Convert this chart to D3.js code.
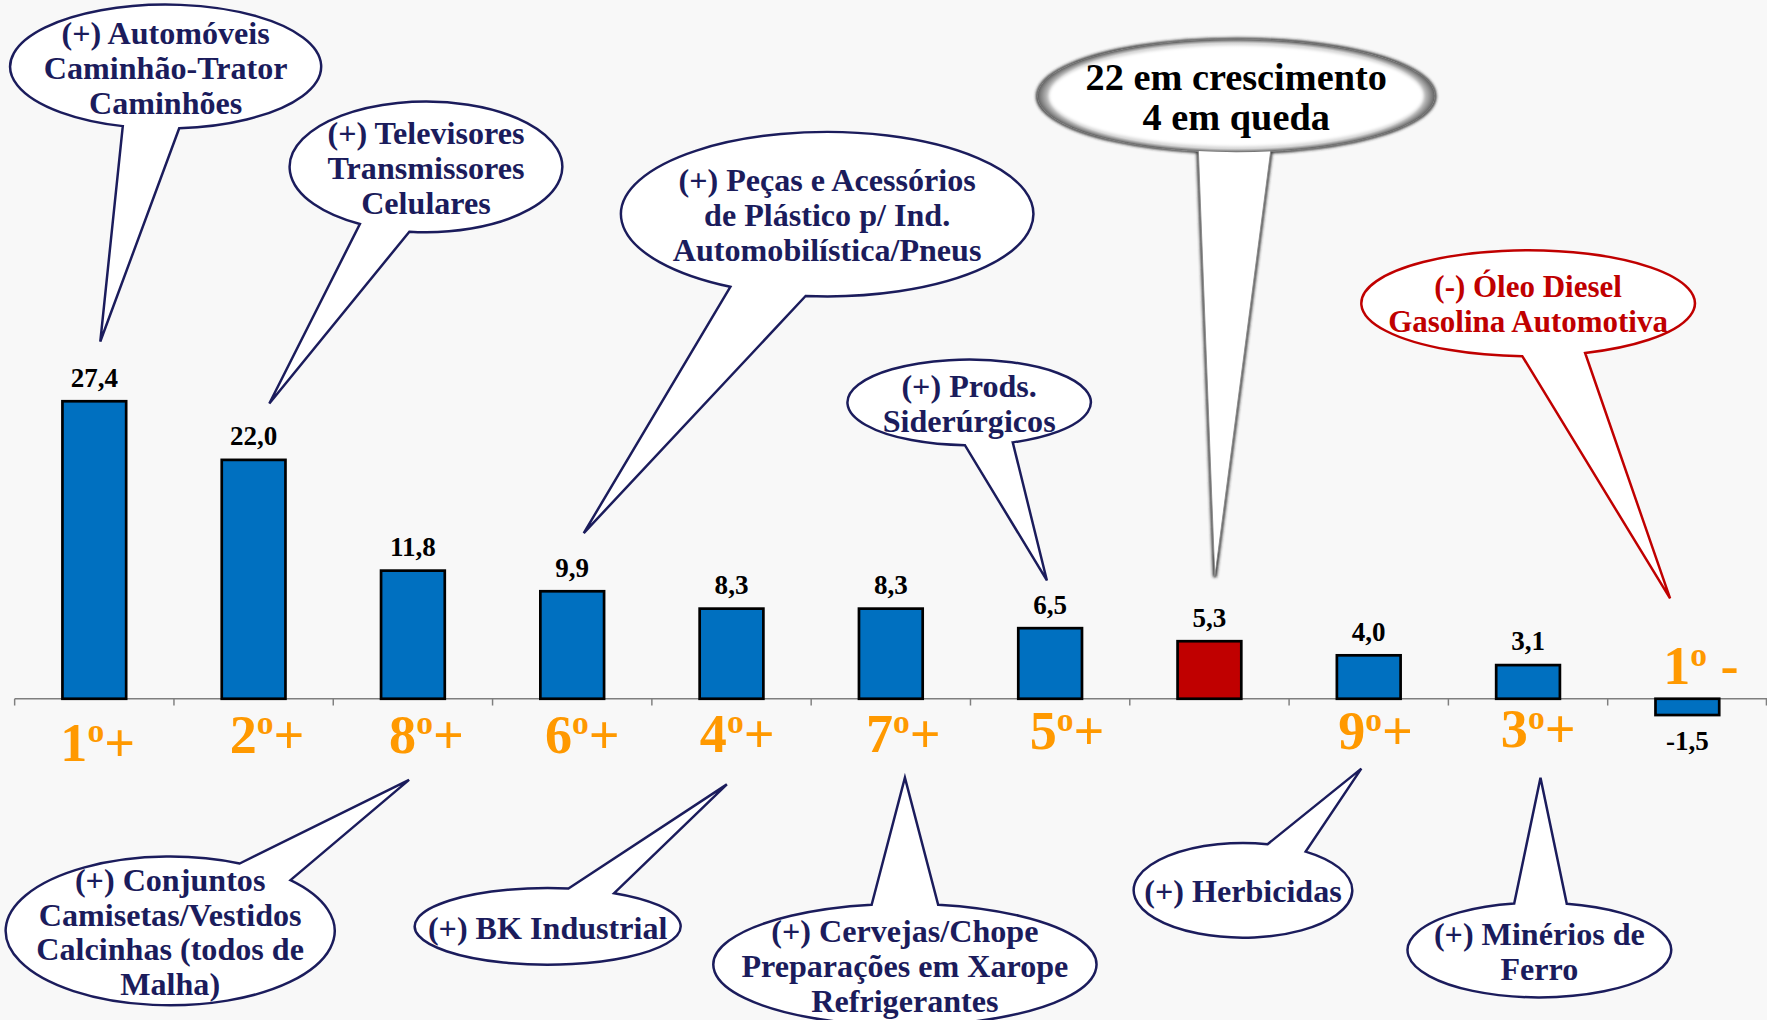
<!DOCTYPE html>
<html><head><meta charset="utf-8">
<script src="https://cdn.jsdelivr.net/npm/d3@7"></script>
<style>html,body{margin:0;padding:0;background:#f8f8f8;overflow:hidden}</style>
</head><body><svg id="chart"></svg>
<script>
// ---------- data ----------
const categories = ["Automóveis", "Televisores", "Conjuntos", "Peças Plástico", "BK Industrial",
  "Cervejas", "Prods. Siderúrgicos", "Total", "Herbicidas", "Minérios de Ferro", "Óleo Diesel"];
const values = [27.4, 22.0, 11.8, 9.9, 8.3, 8.3, 6.5, 5.3, 4.0, 3.1, -1.5];
const rankNumbers = ["1", "2", "8", "6", "4", "7", "5", "", "9", "3", "1"];
const rankSigns = ["+", "+", "+", "+", "+", "+", "+", "", "+", "+", " -"];
const highlightCategory = "Total";
const calloutTexts = [
  ["(+) Automóveis", "Caminhão-Trator", "Caminhões"],
  ["(+) Televisores", "Transmissores", "Celulares"],
  ["(+) Peças e Acessórios", "de Plástico p/ Ind.", "Automobilística/Pneus"],
  ["(+) Prods.", "Siderúrgicos"],
  ["22 em crescimento", "4 em queda"],
  ["(-) Óleo Diesel", "Gasolina Automotiva"],
  ["(+) Conjuntos", "Camisetas/Vestidos", "Calcinhas (todos de", "Malha)"],
  ["(+) BK Industrial"],
  ["(+) Cervejas/Chope", "Preparações em Xarope", "Refrigerantes"],
  ["(+) Herbicidas"],
  ["(+) Minérios de", "Ferro"]
];

// ---------- layout ----------
const VW = 1568, VH = 905;
const NAVY = "#1b1c5c", RED = "#c00000", ORANGE = "#ff9900";
const calloutLayout = [
  {cx:147, cy:59,  rx:138, ry:55, a1:85,  a2:106, tip:[89,303],   kind:"navy"},
  {cx:378, cy:148, rx:121, ry:58, a1:97,  a2:119, tip:[239,358],  kind:"navy"},
  {cx:734, cy:190, rx:183, ry:73, a1:96,  a2:118, tip:[518,473],  kind:"navy"},
  {cx:860, cy:357, rx:108, ry:38, a1:69,  a2:92,  tip:[929,515],  kind:"navy"},
  {cx:1097,cy:85,  rx:176, ry:50, a1:80,  a2:101, tip:[1078,512], kind:"big"},
  {cx:1356,cy:269, rx:148, ry:47, a1:70,  a2:92,  tip:[1482,531], kind:"red"},
  {cx:151, cy:826, rx:146, ry:66, a1:295, a2:317, tip:[363,692],  kind:"navy"},
  {cx:486, cy:822, rx:118, ry:34, a1:279, a2:300, tip:[645,696],  kind:"navy"},
  {cx:803, cy:856, rx:170, ry:54, a1:260, a2:280, tip:[803,690],  kind:"navy"},
  {cx:1103,cy:790, rx:97,  ry:42, a1:283, a2:305, tip:[1208,682], kind:"navy"},
  {cx:1366,cy:843, rx:117, ry:42, a1:259, a2:282, tip:[1367,690], kind:"navy"}
];
const rankNudge = [[3,675],[12,668],[12,668],[9,668],[5,667],[11,667],[15,665],[0,0],[6,665],[9,663],[12,607]];

const svg = d3.select("#chart")
  .attr("width", 1767).attr("height", 1020)
  .attr("viewBox", `0 0 ${VW} ${VH}`);

svg.append("rect").attr("width", VW).attr("height", VH).attr("fill", "#f8f8f8");

const defs = svg.append("defs");
const rg = defs.append("radialGradient").attr("id", "bigGrad");
rg.append("stop").attr("offset", "0%").attr("stop-color", "#ffffff");
rg.append("stop").attr("offset", "82%").attr("stop-color", "#ffffff");
rg.append("stop").attr("offset", "94%").attr("stop-color", "#d0d0d0");
rg.append("stop").attr("offset", "100%").attr("stop-color", "#555");
defs.append("filter").attr("id", "soft").append("feGaussianBlur").attr("stdDeviation", 1.2);

// ---------- scales ----------
const x = d3.scaleBand().domain(categories).range([13, VW]).paddingInner(0.6).paddingOuter(0.3);
const y = d3.scaleLinear().domain([0, 27.4]).range([620, 356]);

// axis line + ticks
const axisG = svg.append("g");
axisG.append("line").attr("x1", 13).attr("x2", VW).attr("y1", y(0)).attr("y2", y(0))
  .attr("stroke", "#7f7f7f").attr("stroke-width", 1.5);
const tickXs = categories.map(c => x(c) + x.bandwidth()/2 - x.step()/2).concat([VW - 0.5]);
axisG.selectAll("line.tick").data(tickXs).join("line").attr("class", "tick")
  .attr("x1", d => d).attr("x2", d => d).attr("y1", y(0)).attr("y2", y(0) + 6)
  .attr("stroke", "#7f7f7f").attr("stroke-width", 1.3);

// bars
svg.append("g").selectAll("rect").data(categories).join("rect")
  .attr("x", c => x(c)).attr("width", x.bandwidth())
  .attr("y", (c, i) => Math.min(y(values[i]), y(0)))
  .attr("height", (c, i) => Math.abs(y(values[i]) - y(0)))
  .attr("fill", c => c === highlightCategory ? "#c00000" : "#0070c0")
  .attr("stroke", "#000").attr("stroke-width", 2.4);

// callouts
function calloutPath(L) {
  const p = a => [L.cx + L.rx * Math.cos(a * Math.PI / 180), L.cy + L.ry * Math.sin(a * Math.PI / 180)];
  const b1 = p(L.a1), b2 = p(L.a2);
  return `M${b1[0]},${b1[1]} L${L.tip[0]},${L.tip[1]} L${b2[0]},${b2[1]} A${L.rx},${L.ry} 0 1 1 ${b1[0]},${b1[1]} Z`;
}
const cg = svg.append("g");
calloutLayout.forEach((L, i) => {
  const g = cg.append("g");
  const lines = calloutTexts[i];
  if (L.kind === "big") {
    g.append("path").attr("d", calloutPath(L)).attr("fill", "#fff")
      .attr("stroke", "#222").attr("stroke-width", 3.2).attr("filter", "url(#soft)");
    g.append("path").attr("d", calloutPath(L)).attr("fill", "#fff").attr("stroke", "#888").attr("stroke-width", 0.8);
    g.append("ellipse").attr("cx", L.cx).attr("cy", L.cy).attr("rx", L.rx).attr("ry", L.ry)
      .attr("fill", "url(#bigGrad)").attr("opacity", 0.9);
    g.append("ellipse").attr("cx", L.cx).attr("cy", L.cy).attr("rx", L.rx - 10).attr("ry", L.ry - 6)
      .attr("fill", "#fff").attr("filter", "url(#soft)");
  } else {
    const col = L.kind === "red" ? RED : NAVY;
    g.append("path").attr("d", calloutPath(L)).attr("fill", "#fff")
      .attr("stroke", col).attr("stroke-width", 2.2).attr("stroke-linejoin", "miter");
  }
  const fs = L.kind === "big" ? 34 : (L.kind === "red" ? 27.5 : 28.5);
  const lh = L.kind === "big" ? 36 : 31;
  const col = L.kind === "big" ? "#000" : (L.kind === "red" ? RED : NAVY);
  const t = g.append("text").attr("text-anchor", "middle")
    .attr("font-family", "'Liberation Serif', 'Times New Roman', serif")
    .attr("font-weight", "bold").attr("font-size", fs).attr("fill", col);
  const y0 = L.cy + 1 - (lines.length - 1) * lh / 2;
  lines.forEach((s, k) => {
    t.append("tspan").attr("x", L.cx).attr("y", y0 + k * lh).attr("dominant-baseline", "central").text(s);
  });
});

// value labels
const fmt = v => d3.format(".1f")(v).replace(".", ",").replace("\u2212", "-");
svg.append("g").selectAll("text").data(categories).join("text")
  .attr("x", c => x(c) + x.bandwidth()/2)
  .attr("y", (c, i) => values[i] >= 0 ? y(values[i]) - 13 : y(values[i]) + 31)
  .attr("text-anchor", "middle")
  .attr("font-family", "'Liberation Serif', 'Times New Roman', serif")
  .attr("font-weight", "bold").attr("font-size", 24).attr("fill", "#000")
  .text((c, i) => fmt(values[i]));

// rank labels
const rg2 = svg.append("g");
categories.forEach((c, i) => {
  if (!rankNumbers[i]) return;
  const fsz = 48;
  const t = rg2.append("text")
    .attr("x", x(c) + x.bandwidth()/2 + rankNudge[i][0])
    .attr("y", rankNudge[i][1])
    .attr("text-anchor", "middle")
    .attr("font-family", "'Liberation Serif', 'Times New Roman', serif")
    .attr("font-weight", "bold").attr("font-size", fsz).attr("fill", ORANGE);
  t.append("tspan").text(rankNumbers[i]);
  t.append("tspan").attr("font-size", fsz * 0.62).attr("dy", -fsz * 0.34).text("o");
  t.append("tspan").attr("dy", fsz * 0.34).text(rankSigns[i]);
});
</script></body></html>
